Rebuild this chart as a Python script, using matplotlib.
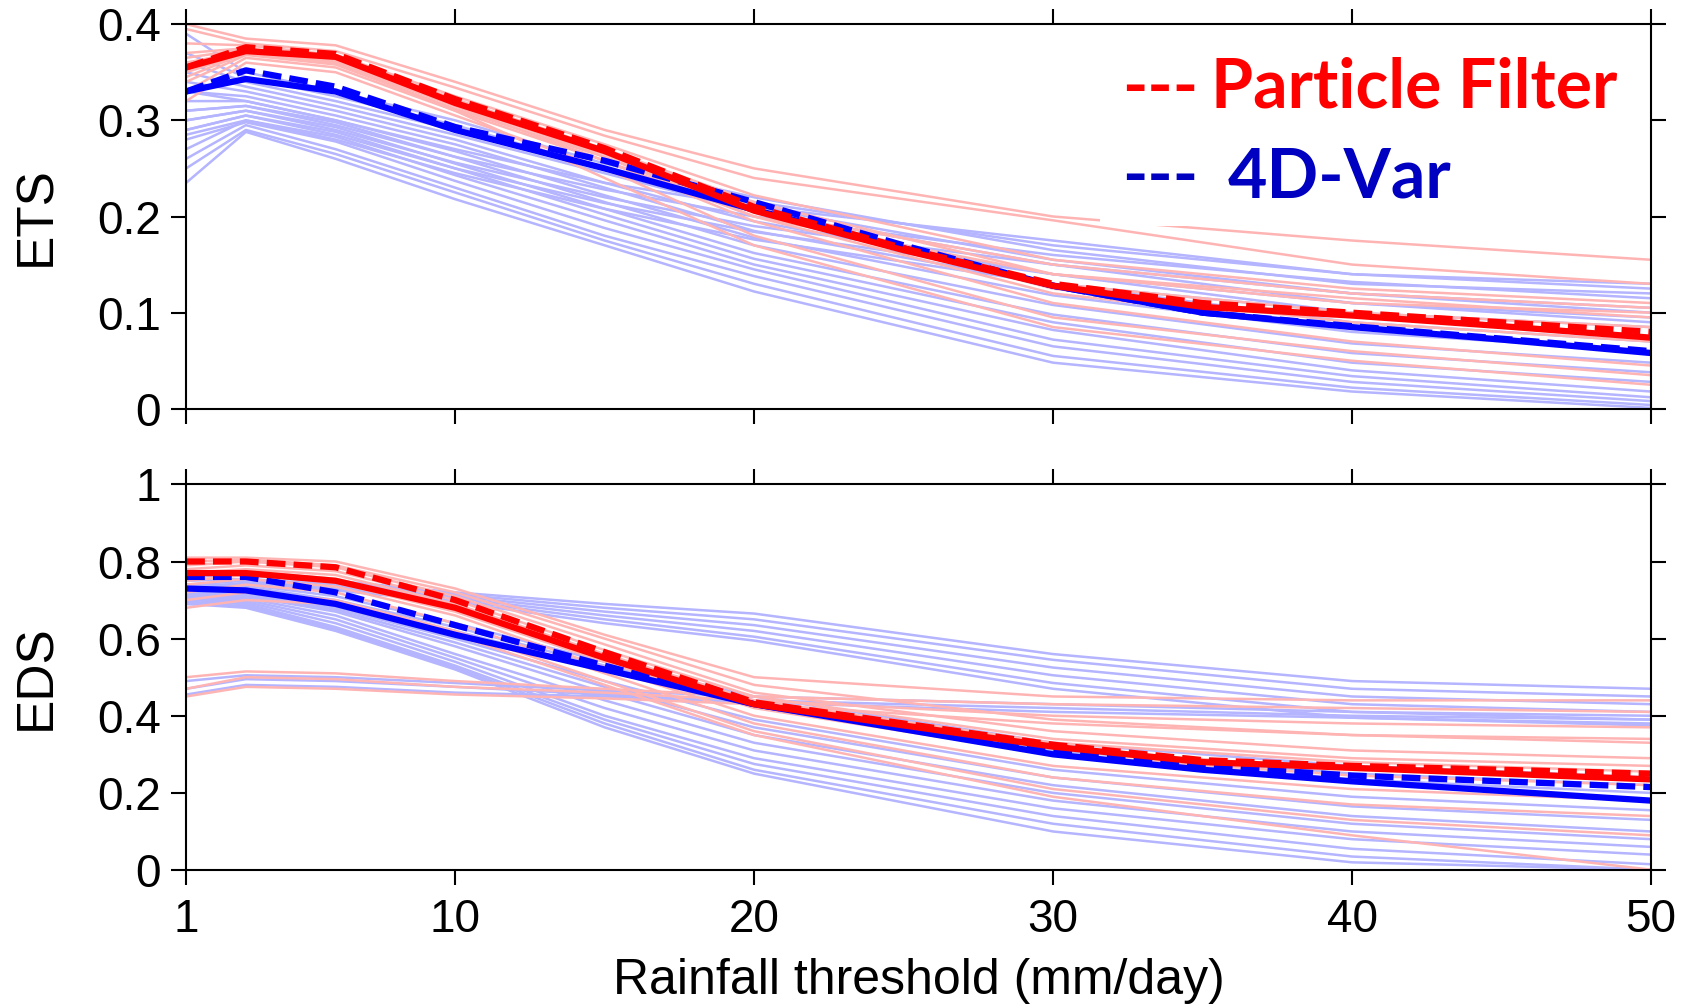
import matplotlib
matplotlib.use("Agg")
import matplotlib.pyplot as plt
from matplotlib.patches import Rectangle

plt.rcParams['font.family'] = ['Liberation Sans', 'DejaVu Sans']

x_main = [1, 3, 6, 10, 15, 20, 25, 30, 35, 40, 45, 50]
x_ens = [1, 3, 6, 10, 15, 20, 30, 40, 50]

# ETS: ensemble means / control
ets_pf_solid = [0.355, 0.372, 0.366, 0.318, 0.268, 0.206, 0.165, 0.128, 0.106, 0.097, 0.086, 0.074]
ets_pf_dash = [0.355, 0.376, 0.369, 0.322, 0.271, 0.210, 0.167, 0.130, 0.110, 0.100, 0.090, 0.080]
ets_var_solid = [0.330, 0.343, 0.330, 0.290, 0.250, 0.207, 0.167, 0.128, 0.100, 0.085, 0.072, 0.058]
ets_var_dash = [0.330, 0.352, 0.335, 0.293, 0.258, 0.215, 0.170, 0.128, 0.100, 0.086, 0.073, 0.060]

# ETS: 4D-Var members
ets_var_members = [
    [0.390, 0.350, 0.330, 0.300, 0.255, 0.220, 0.165, 0.130, 0.120],
    [0.370, 0.345, 0.325, 0.295, 0.250, 0.215, 0.170, 0.140, 0.130],
    [0.360, 0.340, 0.320, 0.290, 0.250, 0.210, 0.155, 0.120, 0.105],
    [0.350, 0.335, 0.315, 0.285, 0.245, 0.205, 0.150, 0.110, 0.095],
    [0.340, 0.330, 0.310, 0.280, 0.235, 0.195, 0.140, 0.100, 0.085],
    [0.330, 0.325, 0.305, 0.275, 0.230, 0.185, 0.130, 0.090, 0.070],
    [0.320, 0.320, 0.300, 0.268, 0.222, 0.178, 0.118, 0.080, 0.060],
    [0.310, 0.315, 0.298, 0.262, 0.215, 0.170, 0.108, 0.068, 0.048],
    [0.300, 0.310, 0.293, 0.255, 0.208, 0.162, 0.098, 0.058, 0.038],
    [0.290, 0.305, 0.288, 0.250, 0.202, 0.156, 0.090, 0.048, 0.028],
    [0.285, 0.300, 0.283, 0.243, 0.196, 0.150, 0.082, 0.040, 0.018],
    [0.280, 0.298, 0.278, 0.237, 0.188, 0.145, 0.072, 0.034, 0.012],
    [0.260, 0.295, 0.270, 0.230, 0.180, 0.138, 0.065, 0.028, 0.008],
    [0.250, 0.290, 0.265, 0.225, 0.175, 0.130, 0.055, 0.022, 0.004],
    [0.235, 0.288, 0.260, 0.218, 0.170, 0.122, 0.048, 0.018, 0.001],
    [0.330, 0.320, 0.300, 0.270, 0.235, 0.210, 0.175, 0.140, 0.125],
    [0.310, 0.315, 0.295, 0.262, 0.228, 0.200, 0.160, 0.132, 0.115],
    [0.300, 0.310, 0.290, 0.256, 0.220, 0.190, 0.150, 0.120, 0.100],
    [0.290, 0.305, 0.285, 0.250, 0.214, 0.184, 0.140, 0.110, 0.090],
    [0.270, 0.300, 0.280, 0.245, 0.208, 0.176, 0.130, 0.100, 0.075],
]

# ETS: particle filter members
ets_pf_members = [
    [0.400, 0.385, 0.378, 0.340, 0.290, 0.250, 0.200, 0.175, 0.155],
    [0.395, 0.380, 0.372, 0.334, 0.284, 0.240, 0.196, 0.150, 0.130],
    [0.380, 0.378, 0.368, 0.325, 0.275, 0.222, 0.155, 0.125, 0.110],
    [0.370, 0.375, 0.365, 0.322, 0.270, 0.215, 0.140, 0.110, 0.100],
    [0.360, 0.372, 0.362, 0.318, 0.268, 0.210, 0.130, 0.100, 0.085],
    [0.350, 0.370, 0.360, 0.315, 0.265, 0.205, 0.125, 0.090, 0.070],
    [0.340, 0.368, 0.358, 0.312, 0.262, 0.200, 0.120, 0.085, 0.060],
    [0.330, 0.365, 0.355, 0.310, 0.258, 0.195, 0.110, 0.070, 0.045],
    [0.320, 0.360, 0.350, 0.305, 0.250, 0.180, 0.095, 0.060, 0.035],
    [0.345, 0.370, 0.360, 0.310, 0.240, 0.170, 0.085, 0.050, 0.025],
    [0.355, 0.372, 0.362, 0.315, 0.258, 0.200, 0.140, 0.115, 0.095],
    [0.365, 0.374, 0.364, 0.318, 0.262, 0.205, 0.150, 0.120, 0.105],
]

# EDS: ensemble means / control
eds_pf_solid = [0.770, 0.770, 0.750, 0.680, 0.550, 0.430, 0.375, 0.320, 0.280, 0.265, 0.250, 0.235]
eds_pf_dash = [0.800, 0.800, 0.785, 0.700, 0.565, 0.435, 0.380, 0.325, 0.285, 0.270, 0.260, 0.250]
eds_var_solid = [0.730, 0.725, 0.690, 0.610, 0.520, 0.430, 0.365, 0.300, 0.260, 0.230, 0.205, 0.180]
eds_var_dash = [0.760, 0.760, 0.720, 0.635, 0.530, 0.430, 0.370, 0.310, 0.270, 0.245, 0.230, 0.215]

# EDS: 4D-Var members
eds_var_members = [
    [0.770, 0.770, 0.750, 0.720, 0.690, 0.665, 0.560, 0.490, 0.470],
    [0.760, 0.765, 0.745, 0.715, 0.680, 0.650, 0.545, 0.470, 0.450],
    [0.750, 0.755, 0.740, 0.710, 0.670, 0.635, 0.525, 0.450, 0.430],
    [0.740, 0.750, 0.735, 0.705, 0.660, 0.620, 0.505, 0.430, 0.410],
    [0.730, 0.745, 0.730, 0.700, 0.650, 0.605, 0.485, 0.410, 0.390],
    [0.720, 0.740, 0.725, 0.695, 0.640, 0.595, 0.470, 0.395, 0.375],
    [0.490, 0.505, 0.500, 0.485, 0.465, 0.450, 0.430, 0.410, 0.400],
    [0.470, 0.495, 0.490, 0.475, 0.455, 0.440, 0.420, 0.400, 0.390],
    [0.455, 0.480, 0.475, 0.460, 0.450, 0.435, 0.410, 0.395, 0.380],
    [0.740, 0.740, 0.710, 0.640, 0.540, 0.450, 0.330, 0.270, 0.240],
    [0.730, 0.735, 0.700, 0.630, 0.530, 0.440, 0.310, 0.250, 0.220],
    [0.725, 0.730, 0.695, 0.620, 0.520, 0.430, 0.300, 0.235, 0.200],
    [0.720, 0.720, 0.680, 0.600, 0.490, 0.390, 0.260, 0.190, 0.155],
    [0.715, 0.715, 0.675, 0.590, 0.475, 0.370, 0.240, 0.165, 0.130],
    [0.710, 0.710, 0.670, 0.580, 0.460, 0.350, 0.220, 0.140, 0.100],
    [0.705, 0.705, 0.660, 0.560, 0.440, 0.330, 0.200, 0.120, 0.080],
    [0.700, 0.700, 0.650, 0.550, 0.420, 0.310, 0.180, 0.100, 0.060],
    [0.700, 0.695, 0.640, 0.540, 0.400, 0.290, 0.160, 0.080, 0.040],
    [0.695, 0.690, 0.630, 0.530, 0.390, 0.275, 0.140, 0.055, 0.015],
    [0.690, 0.685, 0.625, 0.525, 0.380, 0.260, 0.120, 0.035, 0.001],
    [0.690, 0.680, 0.620, 0.520, 0.370, 0.250, 0.100, 0.020, 0.001],
]

# EDS: particle filter members
eds_pf_members = [
    [0.810, 0.810, 0.800, 0.730, 0.610, 0.500, 0.450, 0.440, 0.440],
    [0.800, 0.805, 0.790, 0.720, 0.600, 0.480, 0.390, 0.350, 0.330],
    [0.790, 0.800, 0.785, 0.710, 0.585, 0.460, 0.360, 0.310, 0.290],
    [0.780, 0.790, 0.775, 0.700, 0.570, 0.450, 0.340, 0.290, 0.270],
    [0.770, 0.780, 0.765, 0.690, 0.560, 0.440, 0.330, 0.280, 0.255],
    [0.760, 0.775, 0.755, 0.680, 0.550, 0.430, 0.315, 0.260, 0.240],
    [0.750, 0.765, 0.745, 0.670, 0.540, 0.420, 0.300, 0.245, 0.220],
    [0.740, 0.755, 0.735, 0.660, 0.525, 0.400, 0.270, 0.210, 0.180],
    [0.720, 0.740, 0.720, 0.640, 0.510, 0.380, 0.240, 0.170, 0.140],
    [0.700, 0.720, 0.700, 0.620, 0.490, 0.360, 0.210, 0.130, 0.090],
    [0.680, 0.700, 0.690, 0.610, 0.480, 0.350, 0.190, 0.090, 0.001],
    [0.500, 0.515, 0.510, 0.490, 0.470, 0.450, 0.430, 0.420, 0.410],
    [0.470, 0.500, 0.495, 0.475, 0.460, 0.440, 0.400, 0.380, 0.370],
    [0.450, 0.475, 0.470, 0.455, 0.445, 0.430, 0.380, 0.350, 0.340],
]

x_ticks = [1, 10, 20, 30, 40, 50]
ets_ticks = [0, 0.1, 0.2, 0.3, 0.4]
ets_ticklabels = ["0", "0.1", "0.2", "0.3", "0.4"]
eds_ticks = [0, 0.2, 0.4, 0.6, 0.8, 1.0]
eds_ticklabels = ["0", "0.2", "0.4", "0.6", "0.8", "1"]

light_blue = "#b4b4ff"
light_red = "#ffb4b4"
dash = (0, (3, 1.3))

fig = plt.figure(figsize=(16.92, 10.07), dpi=100)
ax1 = fig.add_axes([0.110, 0.594, 0.8658, 0.382])
ax2 = fig.add_axes([0.110, 0.136, 0.8658, 0.383])


def draw_panel(ax, var_members, pf_members, pf_s, pf_d, var_s, var_d):
    for m in var_members:
        ax.plot(x_ens, m, color=light_blue, lw=1.8, zorder=1)
    for m in pf_members:
        ax.plot(x_ens, m, color=light_red, lw=1.8, zorder=1.1)
    ax.plot(x_main, var_s, color="blue", lw=4.5, zorder=2)
    ax.plot(x_main, var_d, color="blue", lw=4.5, ls=dash, zorder=2)
    ax.plot(x_main, pf_s, color="red", lw=4.5, zorder=2.1)
    ax.plot(x_main, pf_d, color="red", lw=4.5, ls=dash, zorder=2.1)
    ax.set_xlim(1, 50)
    ax.set_xticks(x_ticks)
    ax.tick_params(direction="out", length=11, width=1.5, top=True, right=True,
                   labelsize=33, pad=7)
    for s in ax.spines.values():
        s.set_linewidth(1.5)
        s.set_zorder(5)


draw_panel(ax1, ets_var_members, ets_pf_members, ets_pf_solid, ets_pf_dash,
           ets_var_solid, ets_var_dash)
ax1.set_ylim(0, 0.4)
ax1.set_yticks(ets_ticks)
ax1.set_yticklabels(ets_ticklabels)
ax1.tick_params(axis="x", labelbottom=False)
ax1.set_ylabel("ETS", fontsize=37)
ax1.yaxis.set_label_coords(-0.0853, 0.5)

# white box behind the legend text hides the lines underneath
ax1.add_patch(Rectangle((0.624, 0.475), 0.376, 0.525, transform=ax1.transAxes,
                        facecolor="white", edgecolor="none", zorder=3))

draw_panel(ax2, eds_var_members, eds_pf_members, eds_pf_solid, eds_pf_dash,
           eds_var_solid, eds_var_dash)
ax2.set_ylim(0, 1)
ax2.set_yticks(eds_ticks)
ax2.set_yticklabels(eds_ticklabels)
ax2.tick_params(axis="x", pad=9)
ax2.set_ylabel("EDS", fontsize=37)
ax2.yaxis.set_label_coords(-0.0853, 0.5)
ax2.set_xlabel("Rainfall threshold (mm/day)", fontsize=36)
ax2.xaxis.set_label_coords(0.5, -0.228)

# legend text
legend_font = ["Lato", "DejaVu Sans"]
fig.text(1122 / 1692, 1 - 108 / 1007, "---", color="red", fontsize=49,
         fontweight="bold", family=legend_font, va="baseline")
fig.text(1211 / 1692, 1 - 108 / 1007, "Particle Filter", color="red", fontsize=49,
         fontweight="bold", family=legend_font, va="baseline")
fig.text(1122 / 1692, 1 - 197 / 1007, "---", color="#0000c0", fontsize=49,
         fontweight="bold", family=legend_font, va="baseline")
fig.text(1228 / 1692, 1 - 197 / 1007, "4D-Var", color="#0000c0", fontsize=49,
         fontweight="bold", family=legend_font, va="baseline")

fig.savefig("out.png", dpi=100, facecolor="white")
